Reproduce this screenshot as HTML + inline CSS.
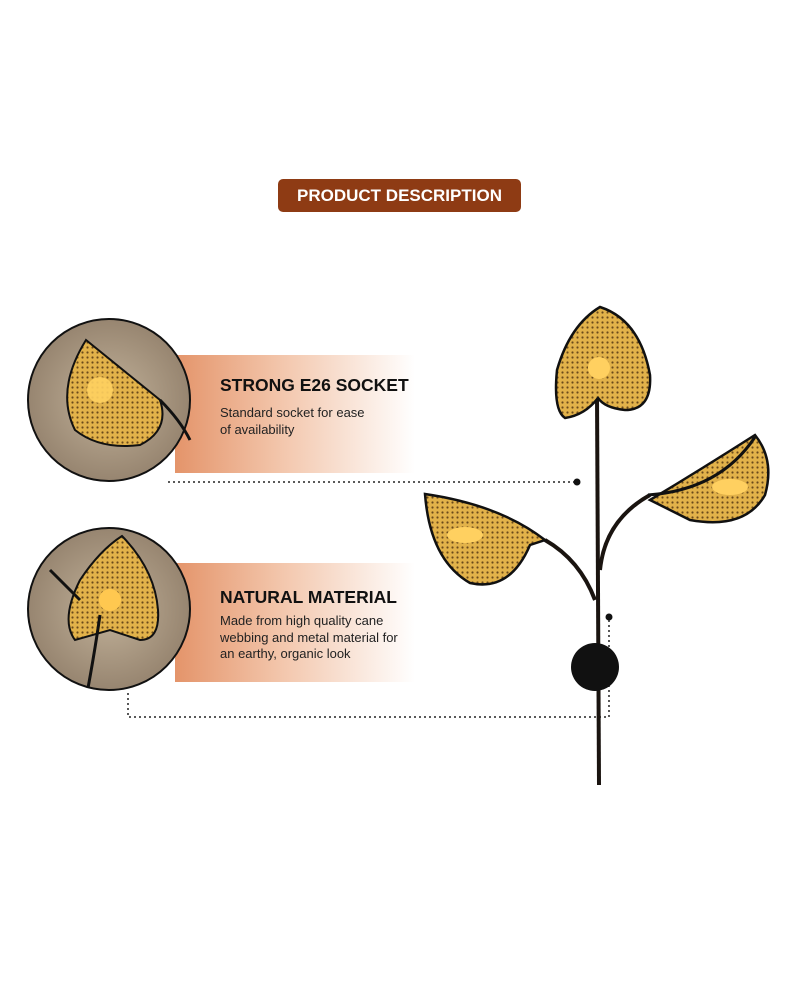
<!DOCTYPE html>
<html><head><style>
body{margin:0;width:800px;height:1000px;background:#fff;position:relative;overflow:hidden;font-family:"Liberation Sans",sans-serif}
.pill{position:absolute;left:278px;top:179px;width:243px;height:33px;background:#8e3b14;border-radius:5px;color:#fff;font-weight:bold;font-size:17px;line-height:33px;text-align:center}
.band{position:absolute;left:175px;width:240px;background:linear-gradient(90deg,#e4946a 0%,#f3c7ad 45%,#fff 100%)}
.t{position:absolute;left:220px;font-weight:bold;font-size:17.5px;color:#111}
.d{position:absolute;left:220px;font-size:13px;line-height:16.5px;color:#222}
</style></head><body>
<div class="pill">PRODUCT DESCRIPTION</div>
<div class="band" style="top:355px;height:118px"></div>
<div class="band" style="top:563px;height:119px"></div>
<div class="t" style="top:375px">STRONG E26 SOCKET</div>
<div class="d" style="top:405px">Standard socket for ease<br>of availability</div>
<div class="t" style="top:587px">NATURAL MATERIAL</div>
<div class="d" style="top:613px">Made from high quality cane<br>webbing and metal material for<br>an earthy, organic look</div>
<svg width="800" height="1000" style="position:absolute;left:0;top:0">
<defs>
<pattern id="cane" width="5" height="5" patternUnits="userSpaceOnUse"><rect width="5" height="5" fill="#e2b24a"/><circle cx="2.5" cy="2.5" r="1.1" fill="#6b4a1a"/></pattern>
<radialGradient id="bg1"><stop offset="0" stop-color="#c2b29a"/><stop offset="1" stop-color="#978570"/></radialGradient>
</defs>
<circle cx="109" cy="400" r="81" fill="url(#bg1)" stroke="#111" stroke-width="2"/>
<path d="M86 340 L160 400 Q170 430 140 445 Q100 450 75 430 Q55 390 86 340Z" fill="url(#cane)" stroke="#111" stroke-width="2"/>
<circle cx="100" cy="390" r="13" fill="#ffd060" opacity=".9"/>
<path d="M160 400 Q180 420 190 440" stroke="#111" stroke-width="3" fill="none"/>
<circle cx="109" cy="609" r="81" fill="url(#bg1)" stroke="#111" stroke-width="2"/>
<path d="M122 536 Q155 570 158 610 Q160 640 140 640 L110 630 L75 640 Q60 620 80 580 Q100 550 122 536Z" fill="url(#cane)" stroke="#111" stroke-width="2"/>
<circle cx="110" cy="600" r="11" fill="#ffc850"/>
<path d="M100 615 Q95 650 88 688 M50 570 Q70 590 80 600" stroke="#111" stroke-width="3" fill="none"/>
<g stroke="#222" stroke-width="1.5" stroke-dasharray="2 3" fill="none">
<path d="M168 482 H577"/>
<path d="M128 693 V717 H609 V617"/>
</g>
<circle cx="577" cy="482" r="3.5" fill="#111"/>
<circle cx="609" cy="617" r="3.5" fill="#111"/>
<path d="M597 395 L599 785" stroke="#1a1410" stroke-width="4" fill="none"/>
<path d="M545 540 Q580 560 595 600 M600 570 Q605 520 650 495" stroke="#1a1410" stroke-width="4" fill="none"/>
<circle cx="595" cy="667" r="24" fill="#111"/>
<path d="M600 307 Q640 320 650 375 Q652 410 625 410 Q605 408 598 398 Q585 415 565 418 Q553 410 557 370 Q570 325 600 307Z" fill="url(#cane)" stroke="#111" stroke-width="2.5"/>
<circle cx="599" cy="368" r="11" fill="#ffd060"/>
<path d="M425 494 Q430 560 470 583 Q510 592 530 545 L545 540 Q500 505 425 494Z" fill="url(#cane)" stroke="#111" stroke-width="2.5"/>
<ellipse cx="465" cy="535" rx="18" ry="8" fill="#ffd060"/>
<path d="M755 435 Q775 460 765 495 Q745 530 690 520 L650 500 Q700 470 755 435Z" fill="url(#cane)" stroke="#111" stroke-width="2.5"/>
<path d="M648 495 Q720 490 755 437" stroke="#111" stroke-width="3" fill="none"/>
<ellipse cx="730" cy="487" rx="18" ry="8" fill="#ffd060"/>
</svg>
</body></html>
